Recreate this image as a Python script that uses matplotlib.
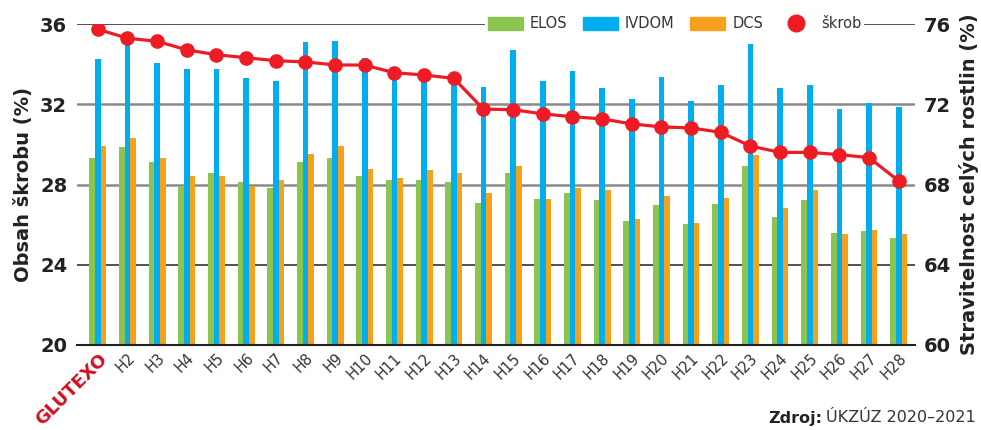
import matplotlib
matplotlib.use('Agg')
import matplotlib.pyplot as plt
from matplotlib.patches import Patch
from matplotlib.lines import Line2D
import numpy as np

# hybridy
hybridy = ['GLUTEXO'] + ['H%d' % i for i in range(2, 29)]

# stravitelnost celych rostlin (%) - prava osa
elos = [69.3, 69.87, 69.12, 67.88, 68.57, 68.13, 67.83, 69.12, 69.32, 68.42,
        68.23, 68.23, 68.13, 67.08, 68.57, 67.28, 67.58, 67.23, 66.18, 66.98,
        66.03, 67.03, 68.92, 66.38, 67.23, 65.58, 65.68, 65.33]
ivdom = [74.26, 75.3, 74.06, 73.76, 73.76, 73.31, 73.16, 75.1, 75.15, 74.31,
         73.6, 73.4, 73.2, 72.86, 74.71, 73.16, 73.66, 72.81, 72.26, 73.36,
         72.16, 72.96, 75.0, 72.81, 72.96, 71.76, 72.06, 71.86]
dcs = [69.92, 70.32, 69.32, 68.42, 68.42, 67.93, 68.23, 69.52, 69.92, 68.77,
       68.33, 68.72, 68.57, 67.58, 68.92, 67.28, 67.83, 67.73, 66.28, 67.43,
       66.08, 67.33, 69.47, 66.83, 67.73, 65.53, 65.73, 65.53]

# obsah skrobu (%) - leva osa
skrob = [35.74, 35.29, 35.14, 34.71, 34.47, 34.32, 34.17, 34.11, 33.96, 33.95,
         33.57, 33.46, 33.29, 31.76, 31.73, 31.52, 31.38, 31.27, 31.02, 30.87,
         30.82, 30.6, 29.92, 29.6, 29.6, 29.49, 29.34, 28.18]

ZELENA = '#8cc54e'
MODRA = '#00aeef'
ORANZ = '#f7a01c'
CERV = '#ed1c24'

fig = plt.figure(figsize=(9.81, 4.30), dpi=100)
ax = fig.add_axes([77/981, 85/430, 838/981, 321/430])
ax2 = ax.twinx()

x = np.arange(len(hybridy))
w = 0.19
ax.bar(x - w, elos, w, color=ZELENA, zorder=3)
ax.bar(x, ivdom, w, color=MODRA, zorder=3)
ax.bar(x + w, dcs, w, color=ORANZ, zorder=3)

ax.set_ylim(60, 76)
ax.set_xlim(-0.7, 27.55)

# vodorovne cary
for yv, c, lw in [(76, '#444444', 1.3), (72, '#8a8a8a', 1.8), (68, '#8a8a8a', 1.8), (64, '#333333', 1.2)]:
    ax.axhline(yv, color=c, lw=lw, zorder=1)
for s in ['top', 'left', 'right']:
    ax.spines[s].set_visible(False)
ax.spines['bottom'].set_color('#222222')
ax.spines['bottom'].set_linewidth(1.5)
ax.spines['bottom'].set_zorder(4)

ax.yaxis.tick_right()
ax.yaxis.set_label_position('right')
ax.set_yticks([60, 64, 68, 72, 76])
ax.tick_params(axis='y', length=0, pad=6, labelsize=14, labelcolor='#222222')
for t in ax.get_yticklabels():
    t.set_fontweight('bold')
ax.set_ylabel('Stravitelnost celých rostlin (%)', fontsize=14, fontweight='bold',
              color='#222222', rotation=90, labelpad=6)

ax.set_xticks(x)
ax.set_xticklabels(hybridy, rotation=45, ha='right', rotation_mode='anchor')
ax.tick_params(axis='x', length=0, pad=4, labelsize=10.5, labelcolor='#333333')
lbls = ax.get_xticklabels()
lbls[0].set_color('#d0101e')
lbls[0].set_fontweight('bold')
lbls[0].set_fontsize(13)

ax2.plot(x, skrob, color=CERV, lw=2.3, marker='o', ms=9.5, zorder=5)
ax2.set_ylim(20, 36)
ax2.yaxis.tick_left()
ax2.yaxis.set_label_position('left')
ax2.set_yticks([20, 24, 28, 32, 36])
ax2.tick_params(axis='y', length=0, pad=7, labelsize=14, labelcolor='#222222')
for t in ax2.get_yticklabels():
    t.set_fontweight('bold')
ax2.set_ylabel('Obsah škrobu (%)', fontsize=14, fontweight='bold', color='#222222', labelpad=5)
for s in ax2.spines.values():
    s.set_visible(False)

handles = [Patch(color=ZELENA), Patch(color=MODRA), Patch(color=ORANZ),
           Line2D([], [], ls='none', marker='o', color=CERV, ms=12)]
leg = ax2.legend(handles, ['ELOS', 'IVDOM', 'DCS', 'škrob'], ncol=4, loc='center right',
                 bbox_to_anchor=(864/981, 406/430), bbox_transform=fig.transFigure,
                 fontsize=10.5, frameon=True, framealpha=1, facecolor='white', edgecolor='none',
                 handlelength=2.4, handleheight=0.9, handletextpad=0.5, columnspacing=1.05,
                 borderpad=0.2, borderaxespad=0)
for t in leg.get_texts():
    t.set_color('#333333')
leg.set_zorder(10)

fig.text(822/981, 12/430, 'Zdroj:', fontsize=11.5, fontweight='bold', color='#222222', ha='right', va='center')
fig.text(826/981, 12/430, 'ÚKZÚZ 2020–2021', fontsize=11.5, color='#333333', ha='left', va='center')

plt.savefig('out.png', dpi=100)
plt.close()
